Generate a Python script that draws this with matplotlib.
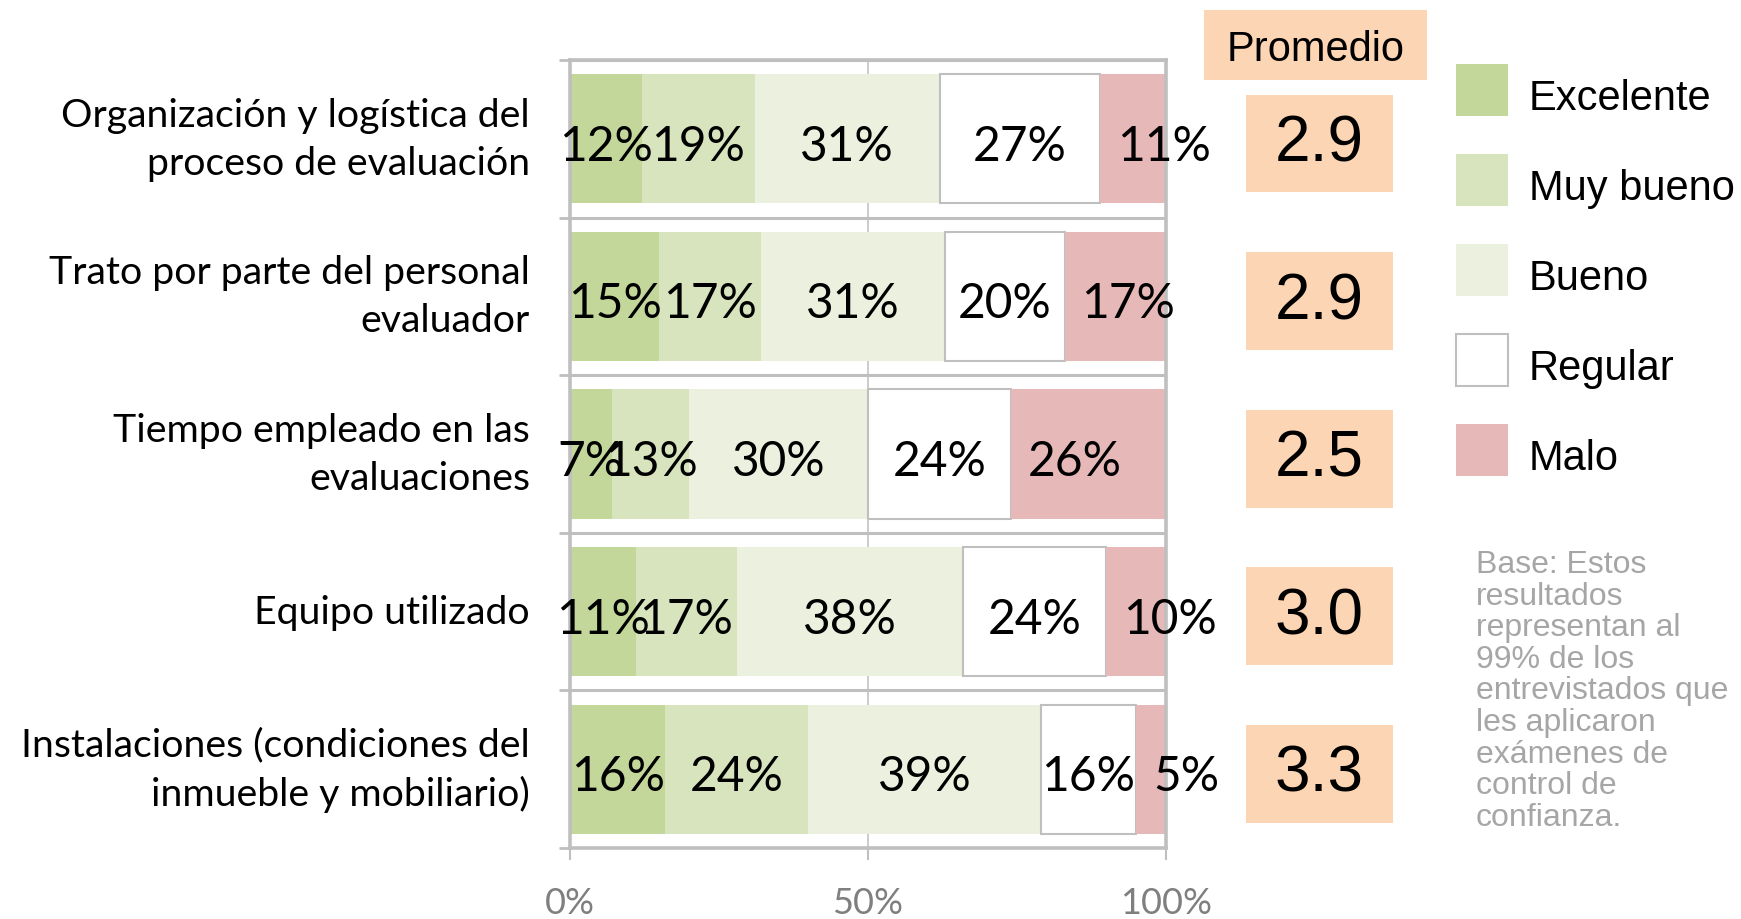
import matplotlib
matplotlib.use("Agg")
import matplotlib.pyplot as plt
from matplotlib.patches import Rectangle
from matplotlib.transforms import blended_transform_factory
import numpy as np

categories = [
    "Organización y logística del\nproceso de evaluación",
    "Trato por parte del personal\nevaluador",
    "Tiempo empleado en las\nevaluaciones",
    "Equipo utilizado",
    "Instalaciones (condiciones del\ninmueble y mobiliario)",
]
series_names = ["Excelente", "Muy bueno", "Bueno", "Regular", "Malo"]
excelente = [12, 15, 7, 11, 16]
muy_bueno = [19, 17, 13, 17, 24]
bueno = [31, 31, 30, 38, 39]
regular = [27, 20, 24, 24, 16]
malo = [11, 17, 26, 10, 5]
promedio = [2.9, 2.9, 2.5, 3.0, 3.3]
x_ticks = [0, 50, 100]
x_tick_labels = ["0%", "50%", "100%"]
header = "Promedio"
note = ("Base: Estos\nresultados\nrepresentan al\n99% de los\nentrevistados que\n"
        "les aplicaron\nexámenes de\ncontrol de\nconfianza.")

colors = ["#C4D79B", "#D7E4BD", "#EBF1DE", "#FFFFFF", "#E6B9B8"]
grid_c = "#BFBFBF"
peach = "#FCD5B5"
F_CAL = ["Lato", "DejaVu Sans"]
F_ARI = ["Liberation Sans", "DejaVu Sans"]

W, H = 1741, 920
fig = plt.figure(figsize=(W / 100, H / 100), dpi=100)
ax = fig.add_axes([570 / W, 1 - 849 / H, 596 / W, 788 / H])

values = [excelente, muy_bueno, bueno, regular, malo]
y = np.arange(len(categories))
left = np.zeros(len(categories))
for name, vals, col in zip(series_names, values, colors):
    vals = np.array(vals, float)
    is_reg = name == "Regular"
    ax.barh(y, vals, left=left, height=0.82, color=col,
            edgecolor=grid_c if is_reg else col,
            linewidth=1.5 if is_reg else 0, zorder=2)
    for yi, l, v in zip(y, left, vals):
        if name == "Malo":
            ax.annotate(f"{v:.0f}%", xy=(l, yi), xytext=(12, -5), textcoords="offset points",
                        ha="left", va="center", fontsize=34.5, family=F_CAL, zorder=3,
                        annotation_clip=False)
        else:
            ax.annotate(f"{v:.0f}%", xy=(l + v / 2, yi), xytext=(0, -5), textcoords="offset points",
                        ha="center", va="center", fontsize=34.5, family=F_CAL, zorder=3,
                        annotation_clip=False)
    left += vals

ax.set_xlim(0, 100)
ax.set_ylim(len(categories) - 0.5, -0.5)
ax.set_xticks(x_ticks)
ax.set_xticklabels(x_tick_labels, fontsize=26, family=F_CAL, color="#7F7F7F")
ax.set_yticks(np.arange(len(categories) + 1) - 0.5)
ax.set_yticklabels([])
ax.tick_params(axis="x", length=8.5, width=1.5, color=grid_c, pad=19)
ax.tick_params(axis="y", length=8, width=2, color=grid_c)
ax.set_axisbelow(True)
ax.grid(axis="y", color=grid_c, linewidth=2.2)
ax.grid(axis="x", color=grid_c, linewidth=1.1)
for s in ax.spines.values():
    s.set_color(grid_c)
    s.set_linewidth(2.6)

ytr = ax.get_yaxis_transform()
for yi, cat in zip(y, categories):
    ax.text(-0.067, yi, cat, transform=ytr, ha="right", va="center",
            multialignment="right", fontsize=28.3, family=F_CAL, linespacing=1.42)

# Promedio boxes
tr = blended_transform_factory(fig.transFigure, ax.transData)
bw, bh, bx = 147 / W, 0.62, 1246 / W
for yi, p in zip(y, promedio):
    fig.add_artist(Rectangle((bx, yi - bh / 2 + 0.03), bw, bh, transform=tr,
                             facecolor=peach, edgecolor="none", clip_on=False))
    fig.text(bx + bw / 2, yi + 0.03, f"{p:.1f}", transform=tr, ha="center", va="center",
             fontsize=46, family=F_ARI)

fig.add_artist(Rectangle((1204 / W, 1 - 81 / H), 223 / W, 70 / H,
                         transform=fig.transFigure, facecolor=peach, edgecolor="none"))
fig.text(1315.5 / W, 1 - 50 / H, header, ha="center", va="center", fontsize=30, family=F_ARI)

# Legend
for i, (name, col) in enumerate(zip(series_names, colors)):
    top = 65 + i * 90
    fig.add_artist(Rectangle((1456 / W, 1 - (top + 52) / H), 52 / W, 52 / H,
                             transform=fig.transFigure, facecolor=col,
                             edgecolor=grid_c if name == "Regular" else col,
                             linewidth=1.5 if name == "Regular" else 0))
    fig.text(1529 / W, 1 - (top + 34) / H, name, ha="left", va="center",
             fontsize=30, family=F_ARI)

fig.text(1476 / W, 1 - 550 / H, note, ha="left", va="top", fontsize=23,
         family=F_ARI, color="#A6A6A6", linespacing=1.07)

fig.savefig("out.png", dpi=100)
